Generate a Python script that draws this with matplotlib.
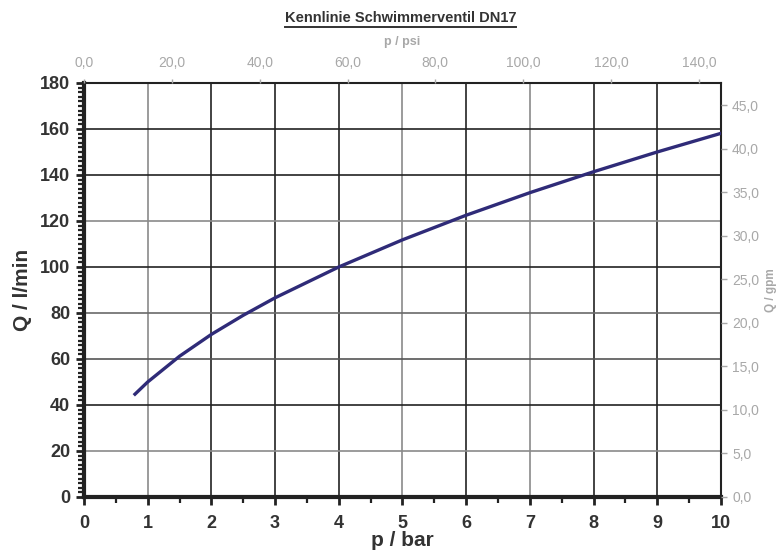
import numpy as np
import matplotlib.pyplot as plt
from matplotlib.ticker import MultipleLocator, FuncFormatter
from matplotlib.lines import Line2D

plt.rcParams['font.family'] = ['Liberation Sans', 'DejaVu Sans']

# values
p_bar = [0.8, 1.0, 1.5, 2.0, 2.5, 3.0, 4.0, 5.0, 6.0, 7.0, 8.0, 9.0, 10.0]
q_lmin = [44.7, 50.0, 61.2, 70.7, 79.0, 86.6, 100.0, 111.8, 122.5, 132.3, 141.4, 150.0, 158.1]

bar_ticks = list(range(0, 11))
q_ticks = list(range(0, 181, 20))
psi_ticks = [0, 20, 40, 60, 80, 100, 120, 140]
gpm_ticks = [0, 5, 10, 15, 20, 25, 30, 35, 40, 45]

psi_per_bar = 14.5038
gpm_per_lmin = 0.264172

fig = plt.figure(figsize=(7.78, 5.53), dpi=100)
ax = fig.add_axes([0.108, 0.1013, 0.8187, 0.7487])

dark = '#333333'
light = '#a8a8a8'

# grid - dark and grey lines like the scanned original
vcols = ['#8a8a8a', '#222222', '#222222', '#222222', '#8a8a8a', '#222222', '#8a8a8a', '#222222', '#222222']
for x, c in zip(bar_ticks[1:-1], vcols):
    ax.axvline(x, color=c, lw=1.2, zorder=1)
hcols = ['#8a8a8a', '#222222', '#555555', '#6a6a6a', '#222222', '#8a8a8a', '#222222', '#222222']
for y, c in zip(q_ticks[1:-1], hcols):
    ax.axhline(y, color=c, lw=1.2, zorder=1)

ax.plot(p_bar, q_lmin, color='#2f2b78', lw=2.4, zorder=3)

ax.set_xlim(0, 10)
ax.set_ylim(0, 180)
ax.set_xticks(bar_ticks)
ax.set_yticks(q_ticks)
ax.xaxis.set_minor_locator(MultipleLocator(0.5))
ax.yaxis.set_minor_locator(MultipleLocator(2))
ax.tick_params(axis='both', which='major', direction='out', length=6, width=2,
               color='#222222', labelsize=13, labelcolor=dark)
ax.tick_params(axis='x', which='major', pad=7)
ax.tick_params(axis='y', which='major', pad=4)
ax.tick_params(axis='both', which='minor', direction='out', length=4, width=1.6, color='#222222')
for lab in ax.get_xticklabels() + ax.get_yticklabels():
    lab.set_fontweight('bold')

for side in ['left', 'bottom']:
    ax.spines[side].set_linewidth(3)
    ax.spines[side].set_color('#222222')
for side in ['top', 'right']:
    ax.spines[side].set_linewidth(1.5)
    ax.spines[side].set_color('#222222')

ax.set_xlabel('p / bar', fontsize=15, fontweight='bold', color=dark, labelpad=-1)
ax.set_ylabel('Q / l/min', fontsize=15, fontweight='bold', color=dark, labelpad=6)

comma = FuncFormatter(lambda v, pos: '{:.1f}'.format(v).replace('.', ','))

# secondary axes (psi on top, gpm on right)
top = ax.twiny()
top.set_xlim(0, 10 * psi_per_bar)
top.set_xticks(psi_ticks)
top.xaxis.set_major_formatter(comma)
top.tick_params(axis='x', direction='out', length=3, width=1, color=light,
                labelsize=10, labelcolor=light, pad=6)
top.set_xlabel('p / psi', fontsize=9, fontweight='bold', color=light, labelpad=8)

right = ax.twinx()
right.set_ylim(0, 180 * gpm_per_lmin)
right.set_yticks(gpm_ticks)
right.yaxis.set_major_formatter(comma)
right.tick_params(axis='y', direction='out', length=4, width=1, color=light,
                  labelsize=10, labelcolor=light, pad=4)
for a in (top, right):
    for s in a.spines.values():
        s.set_visible(False)

fig.text(0.991, 0.476, 'Q / gpm', rotation=90, ha='center', va='center',
         fontsize=8.5, fontweight='bold', color=light)

title = fig.text(0.515, 0.967, 'Kennlinie Schwimmerventil DN17', ha='center', va='center',
                 fontsize=10.5, fontweight='bold', color=dark)

# underline the title
fig.canvas.draw()
bb = title.get_window_extent().transformed(fig.transFigure.inverted())
fig.add_artist(Line2D([bb.x0, bb.x1], [bb.y0 - 0.004, bb.y0 - 0.004], color=dark, lw=1.4,
                      transform=fig.transFigure))

fig.savefig('out.png', dpi=100)
